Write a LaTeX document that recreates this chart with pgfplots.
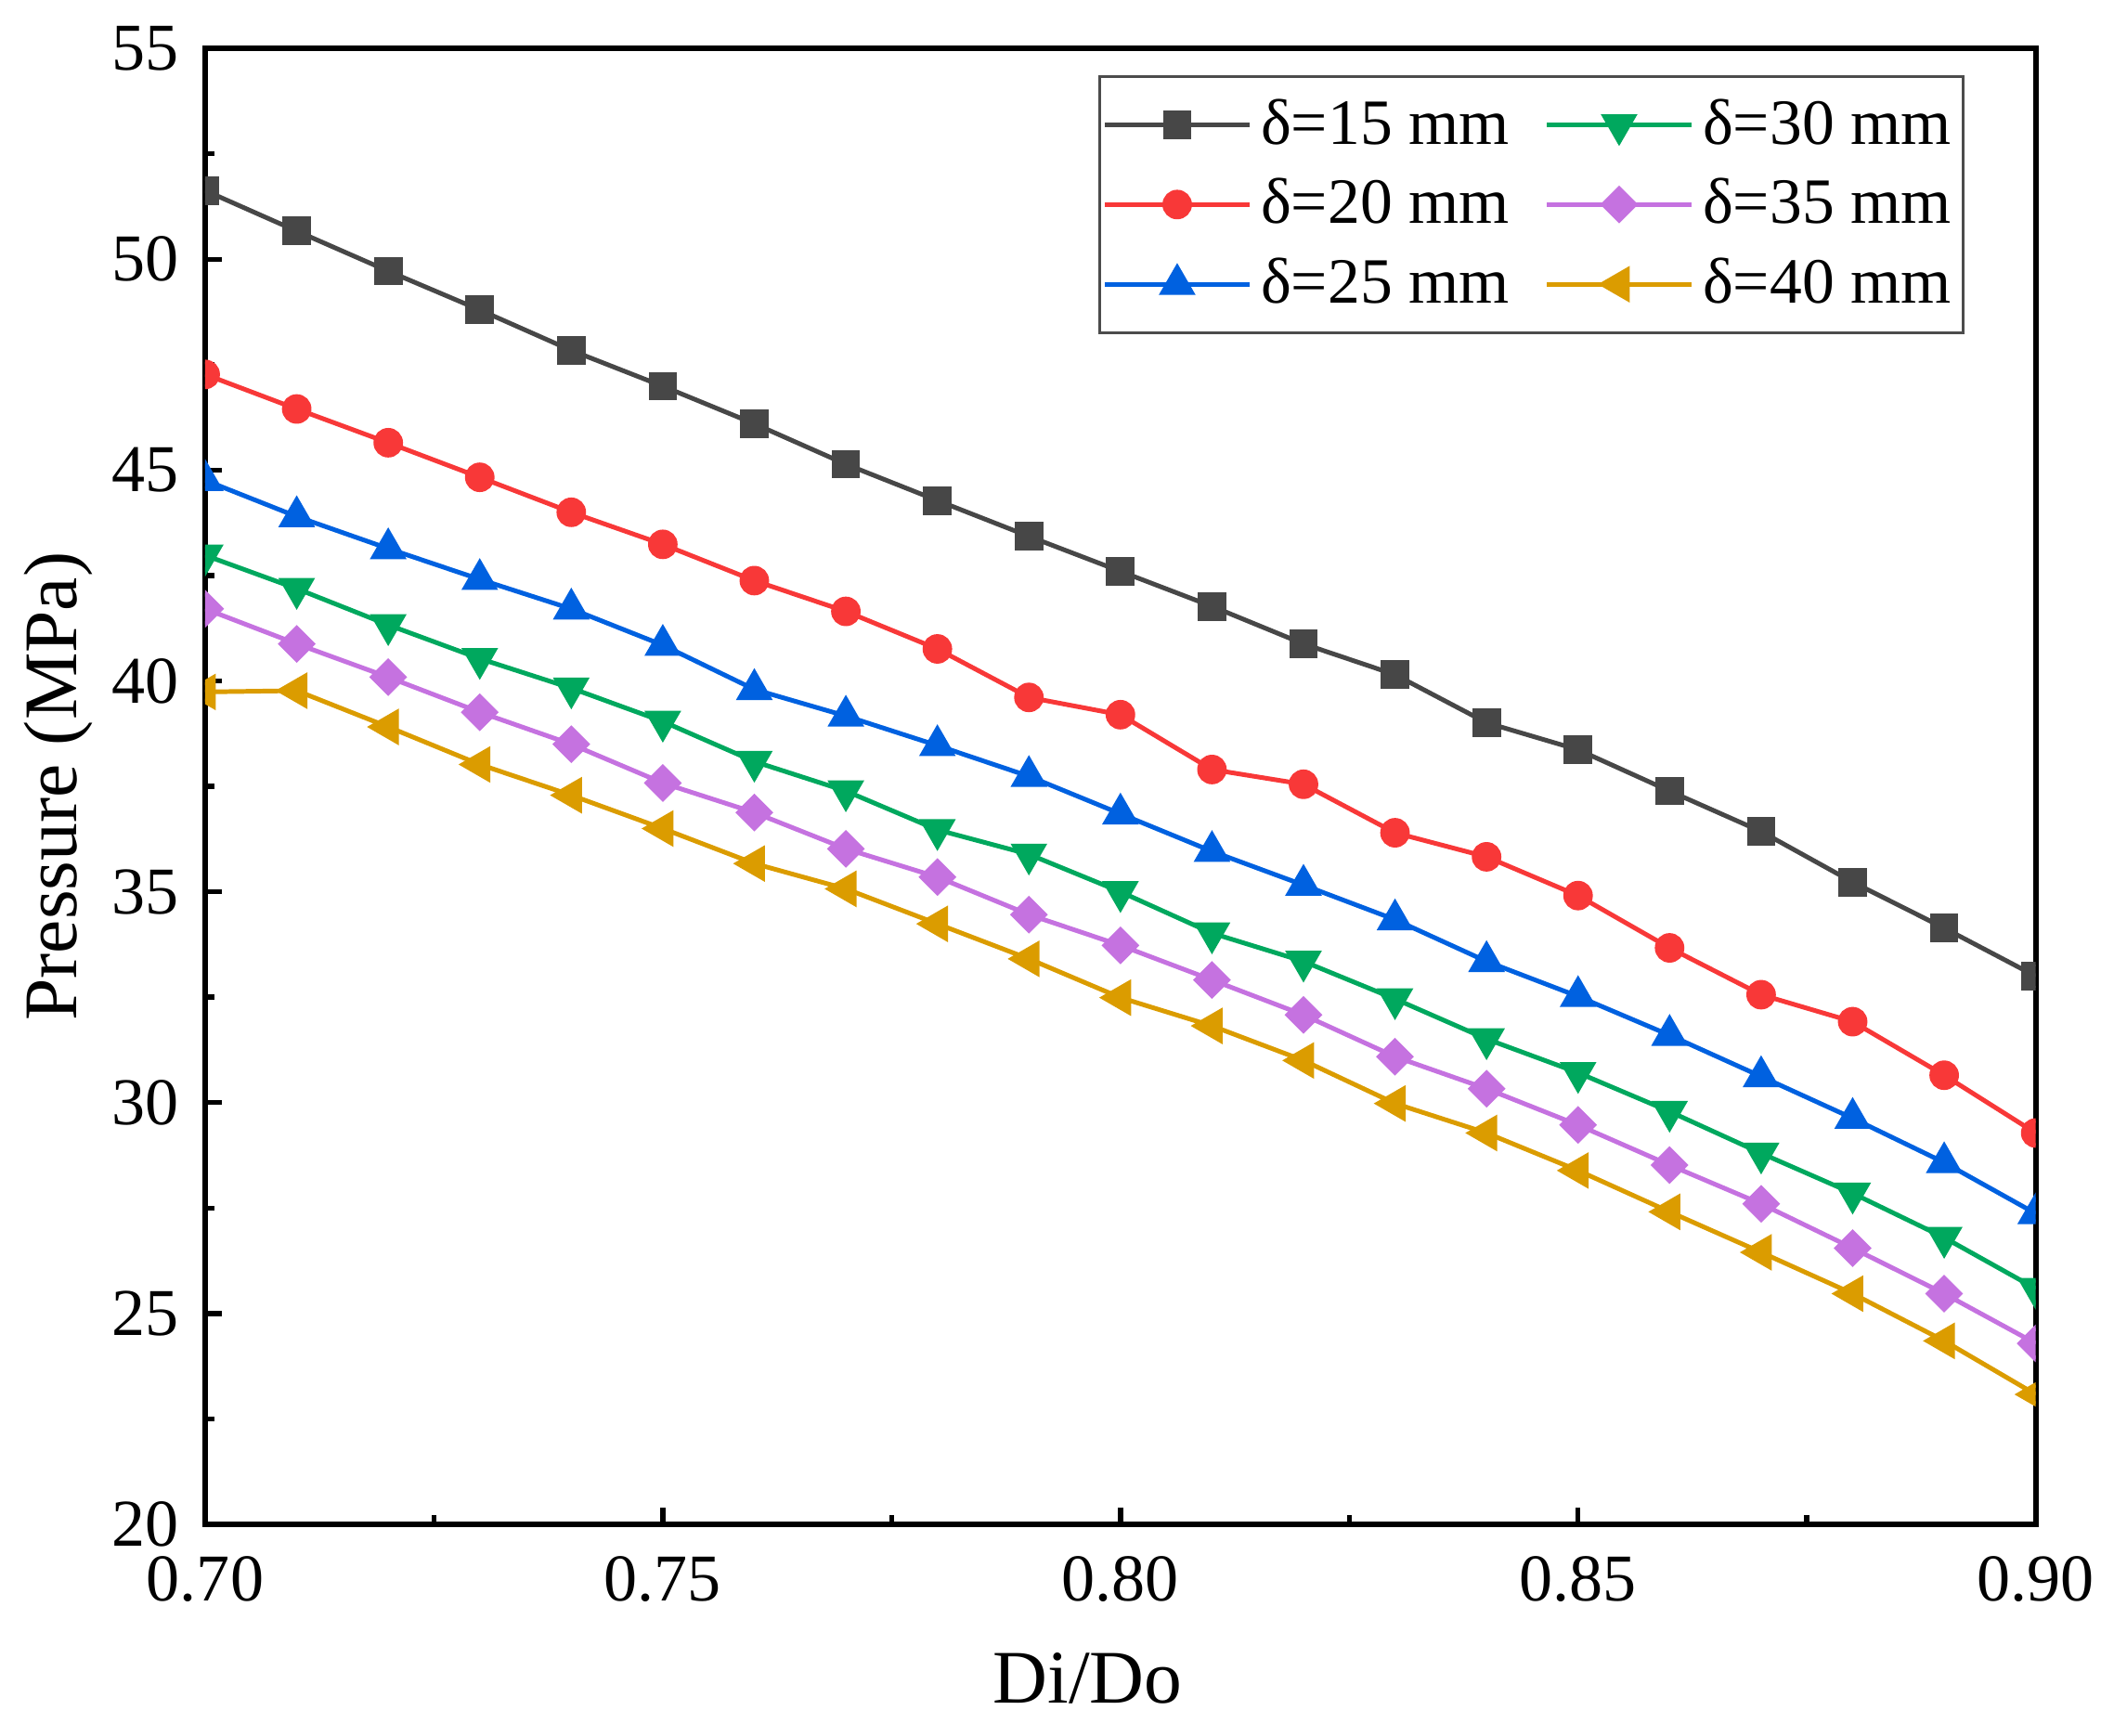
\documentclass[border=0pt]{standalone}
\usepackage{pgfplots}
\pgfplotsset{compat=1.18}
\usepackage{pgfplotstable}
\usepackage{fontspec}
\setmainfont{Liberation Serif}
\definecolor{cA}{HTML}{474747}
\definecolor{cB}{HTML}{F83838}
\definecolor{cC}{HTML}{0061E0}
\definecolor{cD}{HTML}{00A85E}
\definecolor{cE}{HTML}{C572E0}
\definecolor{cF}{HTML}{DB9C00}
\pgfplotstableread{
x s15 s20 s25 s30 s35 s40
0.70 51.63 47.27 44.76 42.98 41.71 39.74
0.71 50.67 46.45 43.90 42.19 40.88 39.77
0.72 49.72 45.65 43.14 41.33 40.09 38.91
0.73 48.80 44.83 42.41 40.53 39.26 38.02
0.74 47.84 44.00 41.71 39.83 38.50 37.29
0.75 46.99 43.24 40.85 39.04 37.58 36.50
0.76 46.10 42.38 39.80 38.09 36.88 35.67
0.77 45.14 41.65 39.17 37.39 36.02 35.07
0.78 44.28 40.76 38.47 36.47 35.35 34.24
0.79 43.43 39.61 37.74 35.89 34.46 33.41
0.80 42.60 39.20 36.85 35.00 33.73 32.49
0.81 41.77 37.90 35.96 34.02 32.91 31.82
0.82 40.88 37.55 35.16 33.35 32.08 31.00
0.83 40.15 36.40 34.34 32.46 31.09 29.98
0.84 39.01 35.83 33.35 31.51 30.33 29.28
0.85 38.37 34.91 32.52 30.71 29.47 28.39
0.86 37.39 33.67 31.60 29.79 28.52 27.41
0.87 36.43 32.56 30.62 28.80 27.60 26.45
0.88 35.23 31.92 29.63 27.85 26.55 25.47
0.89 34.14 30.65 28.58 26.80 25.47 24.35
0.90 33.00 29.28 27.37 25.59 24.29 23.08
}\data
\begin{document}
\begin{tikzpicture}
\begin{axis}[
  name=ax,
  scale only axis,
  width=13.94cm, height=11.24cm,
  xmin=0.70, xmax=0.90, ymin=20, ymax=55,
  xtick={0.70,0.75,0.80,0.85,0.90},
  ytick={20,25,...,55},
  minor x tick num=1, minor y tick num=1,
  tick pos=left, tick align=inside,
  major tick length=0.13cm, minor tick length=0.07cm,
  every tick/.style={black, line width=1.1pt},
  axis line style={line width=1.2pt},
  /pgf/number format/assume math mode=true,
  xticklabel style={/pgf/number format/fixed, /pgf/number format/fixed zerofill, /pgf/number format/precision=2, yshift=-0.12cm},
  yticklabel style={/pgf/number format/fixed, xshift=-0.08cm},
  ticklabel style={font=\fontsize{14.5}{16}\selectfont},
  xlabel={Di/Do}, ylabel={Pressure (MPa)},
  label style={font=\fontsize{16.4}{19}\selectfont},
  xlabel style={yshift=-0.15cm, xshift=-0.25cm},
  ylabel style={yshift=-0.1cm},
  clip marker paths=true,
  legend columns=3, transpose legend,
  legend cell align=left,
  legend style={at={(0.961,0.982)}, anchor=north east, draw=black!70, line width=0.6pt,
    font=\fontsize{14}{16}\selectfont, inner xsep=0.02cm, inner ysep=0.1cm,
    row sep=0.07cm,
    /tikz/every even column/.append style={column sep=0.2cm}},
  legend image code/.code={\draw[mark repeat=2,mark phase=2,#1] plot coordinates {(0cm,0cm) (0.55cm,0cm) (1.1cm,0cm)};},
  every axis plot/.append style={line width=1pt, mark options={solid}},
]
\addplot[cA, mark=square*, mark size=2.6pt] table[x=x,y=s15]{\data};
\addlegendentry{δ=15 mm}
\addplot[cB, mark=*, mark size=2.7pt] table[x=x,y=s20]{\data};
\addlegendentry{δ=20 mm}
\addplot[cC, mark=triangle*, mark size=3.6pt] table[x=x,y=s25]{\data};
\addlegendentry{δ=25 mm}
\addplot[cD, mark=triangle*, mark size=3.6pt, mark options={rotate=180}] table[x=x,y=s30]{\data};
\addlegendentry{δ=30 mm}
\addplot[cE, mark=square*, mark size=2.4pt, mark options={rotate=45}] table[x=x,y=s35]{\data};
\addlegendentry{δ=35 mm}
\addplot[cF, mark=triangle*, mark size=3.6pt, mark options={rotate=90}] table[x=x,y=s40]{\data};
\addlegendentry{δ=40 mm}
\end{axis}
\pgfresetboundingbox
\path (ax.south west) ++(-1.5625cm,-1.612cm) rectangle ++(16cm,13.221cm);
\end{tikzpicture}
\end{document}
